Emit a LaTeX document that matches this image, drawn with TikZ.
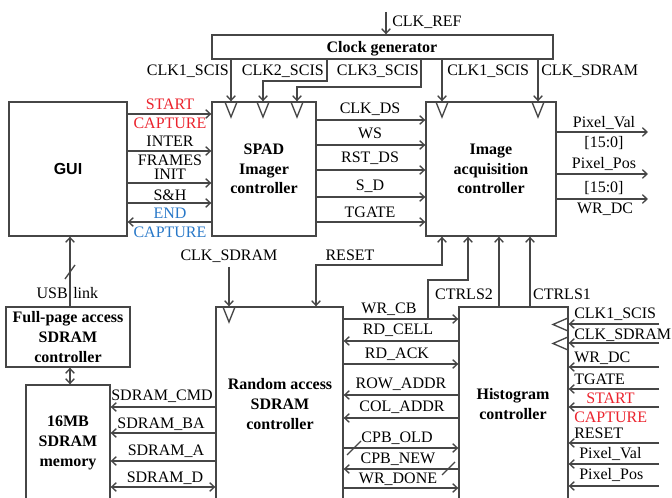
\documentclass[tikz,border=0pt]{standalone}
\usepackage{fontspec}
\setmainfont{Liberation Serif}
\newfontfamily\guifont{Liberation Sans}
\usetikzlibrary{arrows.meta,fit}
\definecolor{lc}{RGB}{70,70,70}
\definecolor{sigred}{RGB}{235,35,45}
\definecolor{sigblue}{RGB}{40,120,200}
\begin{document}
\begin{tikzpicture}[x=0.75pt,y=-0.75pt,
  every node/.style={font=\fontsize{12}{14.5}\selectfont},
  box/.style={draw=lc,line width=1pt,inner sep=0pt},
  btxt/.style={inner sep=0pt,align=center,font=\fontsize{12}{14.8}\selectfont\bfseries},
  wire/.style={draw=lc,line width=1pt},
  arr/.style={wire,-{Straight Barb[length=3.5pt,width=6.5pt]}},
  darr/.style={wire,{Straight Barb[length=3.5pt,width=6.5pt]}-{Straight Barb[length=3.5pt,width=6.5pt]}},
  lbl/.style={inner sep=0pt,text height=8pt,text depth=0pt},
  redl/.style={lbl,text=sigred},
  bluel/.style={lbl,text=sigblue},
]
\useasboundingbox (0,0) rectangle (672,498);
\clip (0,0) rectangle (672,498);

% ---------------- boxes ----------------
\node[box,fit={(212,35) (553,59)}] (clk) {};
\node[box,fit={(9,102) (127,236)}] (gui) {};
\node[box,fit={(212,102) (316,236)}] (spad) {};
\node[box,fit={(426,102) (556,236)}] (iac) {};
\node[box,fit={(6,307) (130,367)}] (fpa) {};
\node[box,fit={(26,385) (110,501)}] (mem) {};
\node[box,fit={(216,307) (343,501)}] (ram) {};
\node[box,fit={(459,307) (568,501)}] (hist) {};

\node[btxt,text height=8.5pt,text depth=0pt] (clk-t) at (382,47) {Clock generator};
\node[btxt,font=\fontsize{12}{14.5}\selectfont\guifont\bfseries] (gui-t) at (gui.center) {GUI};
\node[btxt] (spad-t) at (264,169) {SPAD\\Imager\\controller};
\node[btxt] (iac-t) at (491,169) {Image\\acquisition\\controller};
\node[btxt] (fpa-t) at (68,337) {Full-page access\\SDRAM\\controller};
\node[btxt] (mem-t) at (68,443) {16MB\\SDRAM\\memory};
\node[btxt] (ram-t) at (280,404) {Random access\\SDRAM\\controller};
\node[btxt] (hist-t) at (513,404) {Histogram\\controller};

% ---------------- clock distribution ----------------
\coordinate (cref) at (386,12);
\draw[arr] (cref) -- (cref |- clk.north);
\node[lbl,anchor=west] (tcref) at (392,21) {CLK\_REF};

\draw[arr] (clk.south -| 231,0) -- (spad.north -| 231,0);
\draw[arr] (clk.south -| 327,0) -- (327,81) -- (263,81) -- (spad.north -| 263,0);
\draw[arr] (clk.south -| 421,0) -- (421,87) -- (297,87) -- (spad.north -| 297,0);
\draw[arr] (clk.south -| 442,0) -- (iac.north -| 442,0);
\draw[arr] (clk.south -| 538,0) -- (iac.north -| 538,0);
\node[lbl,anchor=east] (tc1) at (229,70) {CLK1\_SCIS};
\node[lbl,anchor=east] (tc2) at (324,70) {CLK2\_SCIS};
\node[lbl,anchor=east] (tc3) at (419,70) {CLK3\_SCIS};
\node[lbl,anchor=west] (tc4) at (447,70) {CLK1\_SCIS};
\node[lbl,anchor=west] (tc5) at (541,70) {CLK\_SDRAM};

% clock marks
\draw[wire] (225,102) -- (231,117) -- (237,102);
\draw[wire] (257,102) -- (263,117) -- (269,102);
\draw[wire] (291,102) -- (297,117) -- (303,102);
\draw[wire] (436,102) -- (442,117) -- (448,102);
\draw[wire] (532,102) -- (538,117) -- (544,102);
\draw[wire] (223,307) -- (229,322) -- (235,307);
\draw[wire] (568,318) -- (553,324.5) -- (568,331);
\draw[wire] (568,337) -- (553,343.5) -- (568,350);

% ---------------- GUI <-> SPAD ----------------
\draw[arr] (gui.east |- 0,114) -- (spad.west |- 0,114);
\draw[arr] (gui.east |- 0,151) -- (spad.west |- 0,151);
\draw[arr] (gui.east |- 0,183) -- (spad.west |- 0,183);
\draw[arr] (gui.east |- 0,203) -- (spad.west |- 0,203);
\draw[arr] (spad.west |- 0,222) -- (gui.east |- 0,222);
\node[redl] (g1) at (170,104) {START};
\node[redl] (g2) at (170,123) {CAPTURE};
\node[lbl] (g3) at (170,141) {INTER};
\node[lbl] (g4) at (170,160) {FRAMES};
\node[lbl] (g5) at (170,174.5) {INIT};
\node[lbl] (g6) at (170,195) {S\&H};
\node[bluel] (g7) at (170,213) {END};
\node[bluel] (g8) at (170,232) {CAPTURE};

% ---------------- SPAD -> IAC ----------------
\draw[arr] (spad.east |- 0,120) -- (iac.west |- 0,120);
\draw[arr] (spad.east |- 0,145) -- (iac.west |- 0,145);
\draw[arr] (spad.east |- 0,170) -- (iac.west |- 0,170);
\draw[arr] (spad.east |- 0,197) -- (iac.west |- 0,197);
\draw[arr] (spad.east |- 0,222) -- (iac.west |- 0,222);
\node[lbl] (s1) at (370,108) {CLK\_DS};
\node[lbl] (s2) at (370,133) {WS};
\node[lbl] (s3) at (370,157) {RST\_DS};
\node[lbl] (s4) at (370,185) {S\_D};
\node[lbl] (s5) at (370,212) {TGATE};

% ---------------- IAC outputs ----------------
\coordinate (o1) at (648,132);
\coordinate (o2) at (648,174);
\coordinate (o3) at (648,199);
\draw[arr] (iac.east |- o1) -- (o1);
\draw[arr] (iac.east |- o2) -- (o2);
\draw[arr] (iac.east |- o3) -- (o3);
\node[lbl] (p1) at (604,122) {Pixel\_Val};
\node[lbl] (p2) at (604,142) {[15:0]};
\node[lbl] (p3) at (604,163) {Pixel\_Pos};
\node[lbl] (p4) at (604,187) {[15:0]};
\node[lbl] (p5) at (605,208) {WR\_DC};

% ---------------- USB link / memory ----------------
\draw[arr] (fpa.north -| 70,0) -- (gui.south -| 70,0);
\draw[wire] (65,279) -- (75,265);
\node[lbl,anchor=east] (u1) at (68,293) {USB};
\node[lbl,anchor=west] (u2) at (73,293) {link};
\draw[darr] (fpa.south -| 70,0) -- (mem.north -| 70,0);

% ---------------- to Random access controller ----------------
\coordinate (csd) at (229,267);
\draw[arr] (csd) -- (csd |- ram.north);
\node[lbl] (tcsd) at (229,255) {CLK\_SDRAM};
\draw[darr] (iac.south -| 442,0) -- (442,265) -- (316,265) -- (ram.north -| 316,0);
\node[lbl] (trst) at (350,255) {RESET};

% CTRLS
\draw[arr] (428,319) -- (428,280) -- (468,280) -- (iac.south -| 468,0);
\draw[arr] (hist.north -| 499,0) -- (iac.south -| 499,0);
\draw[arr] (hist.north -| 530,0) -- (iac.south -| 530,0);
\node[lbl] (tct2) at (464,294) {CTRLS2};
\node[lbl] (tct1) at (562,294) {CTRLS1};

% ---------------- RAM <-> Histogram ----------------
\draw[arr] (ram.east |- 0,319) -- (hist.west |- 0,319);
\draw[arr] (hist.west |- 0,341) -- (ram.east |- 0,341);
\draw[arr] (ram.east |- 0,364) -- (hist.west |- 0,364);
\draw[arr] (hist.west |- 0,395) -- (ram.east |- 0,395);
\draw[arr] (hist.west |- 0,418) -- (ram.east |- 0,418);
\draw[arr] (ram.east |- 0,448) -- (hist.west |- 0,448);
\draw[arr] (hist.west |- 0,469) -- (ram.east |- 0,469);
\draw[arr] (ram.east |- 0,488) -- (hist.west |- 0,488);
\draw[wire] (347,455) -- (361,441);
\draw[wire] (442,475) -- (455,462);
\node[lbl] (h1) at (389,308) {WR\_CB};
\node[lbl] (h2) at (398,329) {RD\_CELL};
\node[lbl] (h3) at (397,353) {RD\_ACK};
\node[lbl] (h4) at (401,383) {ROW\_ADDR};
\node[lbl] (h5) at (402,406) {COL\_ADDR};
\node[lbl] (h6) at (397,437) {CPB\_OLD};
\node[lbl] (h7) at (398,458) {CPB\_NEW};
\node[lbl] (h8) at (398,478) {WR\_DONE};

% ---------------- RAM -> memory ----------------
\draw[arr] (ram.west |- 0,407) -- (mem.east |- 0,407);
\draw[arr] (ram.west |- 0,433) -- (mem.east |- 0,433);
\draw[arr] (ram.west |- 0,461) -- (mem.east |- 0,461);
\draw[darr] (ram.west |- 0,487) -- (mem.east |- 0,487);
\node[lbl] (m1) at (162,395) {SDRAM\_CMD};
\node[lbl] (m2) at (161,423) {SDRAM\_BA};
\node[lbl] (m3) at (166,450) {SDRAM\_A};
\node[lbl] (m4) at (165,477) {SDRAM\_D};

% ---------------- inputs to Histogram ----------------
\foreach \yy/\nm in {324/i1,343/i2,367/i3,389/i4,407/i5,443/i6,464/i7,486/i8}{
  \coordinate (\nm) at (659,\yy);
  \draw[arr] (\nm) -- (hist.east |- \nm);
}
\node[lbl,anchor=west] (r1) at (574,313) {CLK1\_SCIS};
\node[lbl,anchor=west] (r2) at (574,334) {CLK\_SDRAM};
\node[lbl,anchor=west] (r3) at (574,357) {WR\_DC};
\node[lbl,anchor=west] (r4) at (574,379) {TGATE};
\node[redl,anchor=west] (r5) at (586,398) {START};
\node[redl,anchor=west] (r6) at (574,417) {CAPTURE};
\node[lbl,anchor=west] (r7) at (574,433) {RESET};
\node[lbl,anchor=west] (r8) at (579,453) {Pixel\_Val};
\node[lbl,anchor=west] (r9) at (579,474) {Pixel\_Pos};
\end{tikzpicture}
\end{document}
